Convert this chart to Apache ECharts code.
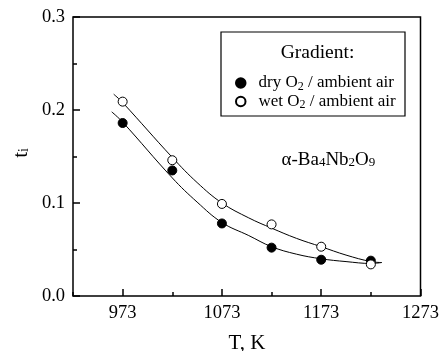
<!DOCTYPE html>
<html>
<head>
<meta charset="utf-8">
<script src="https://cdn.jsdelivr.net/npm/echarts@6/dist/echarts.min.js"></script>
<style>html,body{margin:0;padding:0;background:#fff}#c{width:442px;height:351px}</style>
</head>
<body>
<div id="c"></div>
<script>
const temps = [973, 1023, 1073, 1123, 1173, 1223];
const dryValues = [0.186, 0.135, 0.078, 0.052, 0.039, 0.038];
const wetValues = [0.209, 0.146, 0.099, 0.077, 0.053, 0.034];
const fitTWet = [964, 973, 1023, 1048, 1073, 1100, 1123, 1148, 1173, 1198, 1223, 1234];
const fitWet = [0.217, 0.208, 0.149, 0.122, 0.100, 0.084, 0.073, 0.062, 0.053, 0.044, 0.037, 0.036];
const fitTDry = [962, 973, 1023, 1048, 1073, 1100, 1123, 1148, 1173, 1198, 1223, 1234];
const fitDry = [0.198, 0.187, 0.127, 0.101, 0.079, 0.065, 0.053, 0.045, 0.040, 0.037, 0.035, 0.036];
const xMajorTicks = [973, 1073, 1173, 1273];
const yMajorTicks = [0, 0.1, 0.2, 0.3];
const seriesNames = ['dry O2 / ambient air', 'wet O2 / ambient air'];

const FONT = 'Liberation Serif';
const zip = (a, b) => a.map((v, i) => [v, b[i]]);
const subRich = {
  n: { fontFamily: FONT, fontSize: 19, color: '#000', lineHeight: 19 },
  s: { fontFamily: FONT, fontSize: 13, color: '#000', lineHeight: 8, verticalAlign: 'bottom' }
};
const legendRich = {
  g: { width: 8, lineHeight: 19 },
  n: { fontFamily: FONT, fontSize: 17, color: '#000', lineHeight: 19 },
  s: { fontFamily: FONT, fontSize: 12, color: '#000', lineHeight: 8, verticalAlign: 'bottom' }
};

const chart = echarts.init(document.getElementById('c'), null, { renderer: 'canvas' });
const axisLabelStyle = { fontFamily: FONT, fontSize: 18.5, color: '#000' };

chart.setOption({
  animation: false,
  backgroundColor: '#fff',
  grid: { left: 73, right: 20, top: 17, bottom: 55, show: true, borderColor: '#000', borderWidth: 1.5, backgroundColor: 'transparent' },
  xAxis: [
    {
      type: 'value', min: 923, max: 1273, interval: 50,
      axisLine: { show: false },
      splitLine: { show: false },
      axisTick: { inside: true, length: 4, lineStyle: { color: '#000', width: 1.5 } },
      axisLabel: { show: false }
    },
    {
      type: 'value', min: 923, max: 1273, position: 'bottom',
      axisLine: { show: false },
      splitLine: { show: false },
      axisTick: { inside: true, length: 7, customValues: xMajorTicks, lineStyle: { color: '#000', width: 1.5 } },
      axisLabel: Object.assign({ margin: 8, customValues: xMajorTicks, formatter: v => String(v) }, axisLabelStyle)
    }
  ],
  yAxis: [
    {
      type: 'value', min: 0, max: 0.3, interval: 0.05,
      axisLine: { show: false },
      splitLine: { show: false },
      axisTick: { inside: true, length: 4, lineStyle: { color: '#000', width: 1.5 } },
      axisLabel: { show: false }
    },
    {
      type: 'value', min: 0, max: 0.3, position: 'left',
      axisLine: { show: false },
      splitLine: { show: false },
      axisTick: { inside: true, length: 7, customValues: yMajorTicks, lineStyle: { color: '#000', width: 1.5 } },
      axisLabel: Object.assign({ margin: 8, customValues: yMajorTicks, formatter: v => v.toFixed(1) }, axisLabelStyle)
    }
  ],
  legend: {
    data: seriesNames,
    orient: 'vertical',
    left: 235, top: 74.5,
    padding: 0,
    itemGap: 0.5,
    itemWidth: 9.5, itemHeight: 9.5,
    icon: 'circle',
    z: 20,
    formatter: name => '{g|}{n|' + name.split('O2')[0] + 'O}{s|2}{n|' + name.split('O2')[1] + '}',
    textStyle: { fontFamily: FONT, fontSize: 17, color: '#000', rich: legendRich }
  },
  graphic: [
    { type: 'rect', shape: { x: 221, y: 32, width: 184, height: 84 }, style: { fill: 'transparent', stroke: '#000', lineWidth: 1.2 }, z: 5 },
    { type: 'text', x: 317.5, y: 53, style: { text: 'Gradient:', fontFamily: FONT, fontSize: 19.5, fill: '#000', textAlign: 'center', textVerticalAlign: 'middle' }, z: 6 },
    { type: 'text', x: 281.5, y: 160, style: { text: '{n|α-Ba}{s|4}{n|Nb}{s|2}{n|O}{s|9}', rich: subRich, textAlign: 'left', textVerticalAlign: 'middle' }, z: 6 },
    { type: 'text', x: 247, y: 343, style: { text: 'T, K', fontFamily: FONT, fontSize: 21, fill: '#000', textAlign: 'center', textVerticalAlign: 'middle' }, z: 6 },
    { type: 'text', x: 21, y: 153, rotation: Math.PI / 2, style: { text: '{n|t}{s|i}', rich: { n: { fontFamily: FONT, fontSize: 21, color: '#000', lineHeight: 21 }, s: { fontFamily: FONT, fontSize: 14, color: '#000', lineHeight: 8, verticalAlign: 'bottom' } }, textAlign: 'center', textVerticalAlign: 'middle' }, z: 6 }
  ],
  series: [
    {
      name: 'fitDry', type: 'line', data: zip(fitTDry, fitDry), smooth: 0.4, symbol: 'none',
      lineStyle: { color: '#000', width: 1 }, z: 2, silent: true
    },
    {
      name: 'fitWet', type: 'line', data: zip(fitTWet, fitWet), smooth: 0.4, symbol: 'none',
      lineStyle: { color: '#000', width: 1 }, z: 2, silent: true
    },
    {
      name: seriesNames[0], type: 'scatter', data: zip(temps, dryValues), symbol: 'circle', symbolSize: 9,
      itemStyle: { color: '#000', borderColor: '#000', borderWidth: 1, opacity: 1 }, z: 3
    },
    {
      name: seriesNames[1], type: 'scatter', data: zip(temps, wetValues), symbol: 'circle', symbolSize: 9,
      itemStyle: { color: '#fff', borderColor: '#000', borderWidth: 1, opacity: 1 }, z: 4
    }
  ]
});
</script>
</body>
</html>
